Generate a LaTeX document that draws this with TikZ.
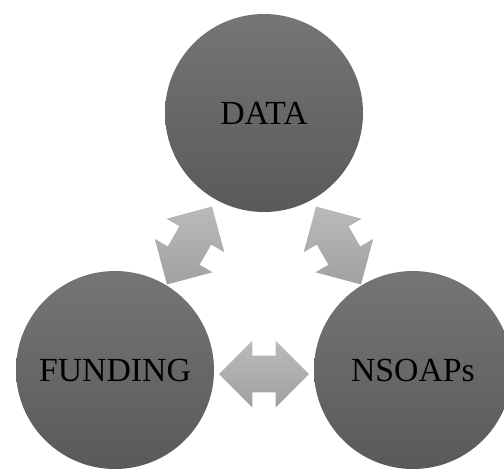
\documentclass[tikz,border=0pt]{standalone}
\usepackage{fontspec}
\setmainfont{Liberation Serif}
\usepackage{tikz}
\usetikzlibrary{calc}
\usetikzlibrary{shapes}

\begin{document}
\begin{tikzpicture}[
	bubble/.style={circle, minimum size=3.96cm, inner sep=0pt, top color=black!54, bottom color=black!65, font=\fontsize{19.2}{23}\selectfont},
	link/.style={double arrow, minimum height=1.8cm, inner xsep=0pt, inner ysep=0.36cm, double arrow head extend=0.3cm, double arrow tip angle=90, top color=black!27, bottom color=black!37, yshift=-0.08cm}]
	\useasboundingbox (0,0) rectangle (10.08,9.4);
	\node[bubble] (D) at (5.28,7.14){DATA};
	\node[bubble] (F) at (2.30,2.00){FUNDING};
	\node[bubble] (N) at (8.26,2.00){NSOAPs};
%	arrows between the circles
	\node[link, rotate=60] (DF) at ($(F)!0.5!(D)$) {};
	\node[link, rotate=-60] (DN) at ($(D)!0.5!(N)$) {};
	\node[link] (FN) at ($(F)!0.5!(N)$) {};
\end{tikzpicture}
\end{document}
